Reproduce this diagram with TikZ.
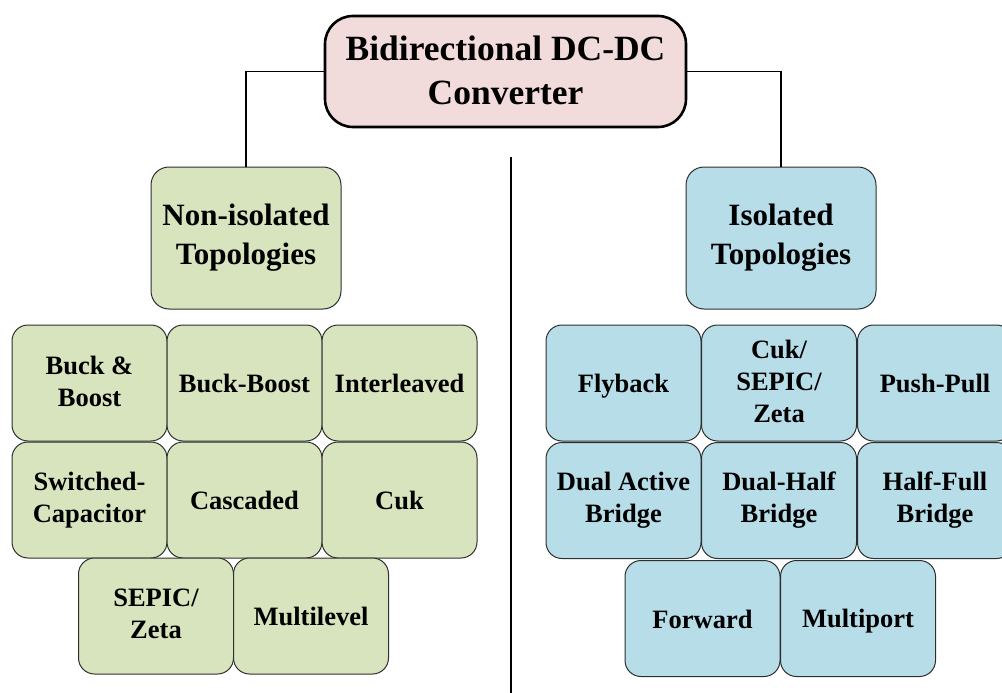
\documentclass[tikz,border=0pt]{standalone}
\usepackage{fontspec}
\setmainfont{Liberation Serif}
\definecolor{rootfill}{HTML}{F2DCDB}
\definecolor{greenfill}{HTML}{D7E4BD}
\definecolor{bluefill}{HTML}{B7DDE8}
\definecolor{edgegray}{HTML}{2E2E2E}
% invisible rule fixing the height above the first baseline and depth below the last
\newcommand{\boxstrut}[2]{\rule[-#2]{0pt}{\dimexpr#1+#2\relax}}
\tikzset{
  struts/.style 2 args={execute at begin node=\boxstrut{#1}{#2},
    execute at end node=\boxstrut{#1}{#2}},
  rootbox/.style={draw=black, line width=2.6pt, fill=rootfill, rounded corners=28pt,
    minimum width=361pt, minimum height=111pt, align=center, inner sep=0pt,
    font=\bfseries\fontsize{35.5}{44}\selectfont, struts={0.9em}{0.08em}},
  groupbox/.style={draw=edgegray, line width=1pt, rounded corners=18pt,
    minimum width=190pt, minimum height=142pt, align=center, inner sep=0pt,
    font=\bfseries\fontsize{31}{39}\selectfont, struts={0.9em}{0.08em}},
  leafbox/.style={draw=edgegray, line width=1pt, rounded corners=16pt,
    minimum width=155pt, minimum height=116pt, align=center, inner sep=0pt,
    font=\bfseries\fontsize{26.5}{32}\selectfont, struts={0.9em}{0.15em}},
  greenleaf/.style={leafbox, fill=greenfill},
  blueleaf/.style={leafbox, fill=bluefill},
  link/.style={draw=black, line width=1.4pt},
}
\begin{document}
\begin{tikzpicture}[x=1pt, y=-1pt]
\useasboundingbox (0,0) rectangle (1002,693);
\clip (0,0) rectangle (1002,693);

% root and the two topology groups
\node[rootbox] (root) at (505.5,71.5) {Bidirectional DC-DC\\Converter};
\node[groupbox, fill=greenfill] (noniso) at (246,238) {Non-isolated\\Topologies};
\node[groupbox, fill=bluefill] (iso) at (781,238) {Isolated\\Topologies};

\draw[link] (root.west) -| (noniso.north);
\draw[link] (root.east) -| (iso.north);

% divider between the two families
\coordinate (divtop) at (511,157);
\coordinate (divbot) at (511,693);
\draw[link] (divtop) -- (divbot);

% non-isolated converters
\node[greenleaf] (buckboost)  at (89.5,383)  {Buck \&\\Boost};
\node[greenleaf] (bbst)       at (244.5,383) {Buck-Boost};
\node[greenleaf] (interl)     at (399.5,383) {Interleaved};
\node[greenleaf] (swcap)      at (89.5,500)  {Switched-\\Capacitor};
\node[greenleaf] (casc)       at (244.5,500) {Cascaded};
\node[greenleaf] (cuk)        at (399.5,500) {Cuk};
\node[greenleaf] (sepic)      at (156,616)   {SEPIC/\\Zeta};
\node[greenleaf] (mlevel)     at (311,616)   {Multilevel};

% isolated converters
\node[blueleaf] (flyback)  at (623.5,383) {Flyback};
\node[blueleaf] (cukiso)   at (779,383)   {Cuk/\\SEPIC/\\Zeta};
\node[blueleaf] (pushpull) at (935,383)   {Push-Pull};
\node[blueleaf] (dab)      at (623.5,500.5) {Dual Active\\Bridge};
\node[blueleaf] (dhb)      at (779,500.5)   {Dual-Half\\Bridge};
\node[blueleaf] (hfb)      at (935,500.5)   {Half-Full\\Bridge};
\node[blueleaf] (forward)  at (702.5,618.5) {Forward};
\node[blueleaf] (mport)    at (858,618.5)   {Multiport};
\end{tikzpicture}
\end{document}
